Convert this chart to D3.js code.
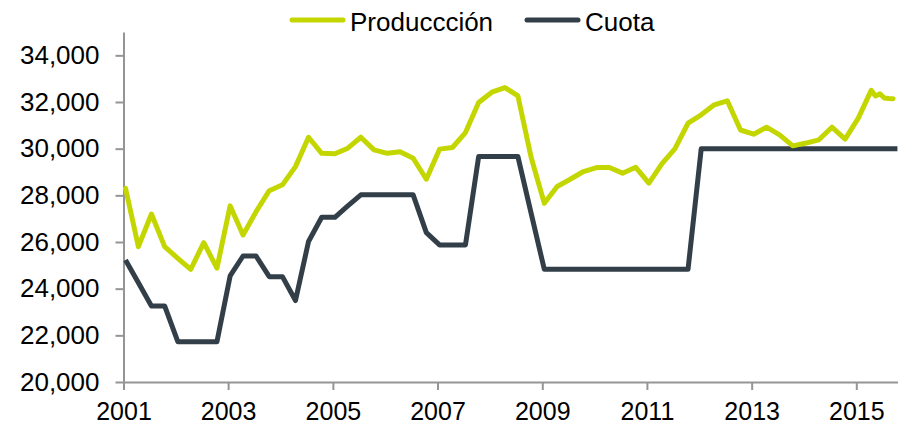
<!DOCTYPE html>
<html>
<head>
<meta charset="utf-8">
<script src="https://cdn.jsdelivr.net/npm/d3@7"></script>
<style>
  html, body { margin: 0; padding: 0; background: #fff; }
  svg { display: block; font-family: "Liberation Sans", Arial, sans-serif; }
</style>
</head>
<body>
<div id="chart"></div>
<script>
// quarterly observations (first month of each quarter), plus monthly tail in 2015
const quarters = [
  '2001-01','2001-04','2001-07','2001-10','2002-01','2002-04','2002-07','2002-10',
  '2003-01','2003-04','2003-07','2003-10','2004-01','2004-04','2004-07','2004-10',
  '2005-01','2005-04','2005-07','2005-10','2006-01','2006-04','2006-07','2006-10',
  '2007-01','2007-04','2007-07','2007-10','2008-01','2008-04','2008-07','2008-10',
  '2009-01','2009-04','2009-07','2009-10','2010-01','2010-04','2010-07','2010-10',
  '2011-01','2011-04','2011-07','2011-10','2012-01','2012-04','2012-07','2012-10',
  '2013-01','2013-04','2013-07','2013-10','2014-01','2014-04','2014-07','2014-10',
  '2015-01','2015-04','2015-07','2015-10'
];

const produccionDates = quarters.slice(0, 58).concat(['2015-05', '2015-06', '2015-07', '2015-08', '2015-09']);
const produccion = [
  28300, 25800, 27200, 25800, 25300, 24830, 25970, 24880,
  27550, 26300, 27300, 28200, 28450, 29230, 30490, 29800,
  29780, 30020, 30490, 29950, 29800, 29870, 29590, 28690,
  29980, 30050, 30690, 31980, 32420, 32620, 32260, 29630,
  27660, 28380, 28690, 29020, 29190, 29190, 28950, 29200,
  28520, 29350, 29990, 31090, 31450, 31880, 32050, 30800,
  30620, 30920, 30590, 30120, 30240, 30380, 30920, 30410,
  31310, 32500,
  32260, 32350, 32170, 32150, 32140
];

const cuota = [
  25230, 24250, 23260, 23260, 21730, 21730, 21730, 21730,
  24545, 25400, 25400, 24515, 24515, 23490, 26020, 27060,
  27060, 27550, 28020, 28020, 28020, 28020, 28020, 26400,
  25875, 25875, 25875, 29660, 29660, 29660, 29660, 27240,
  24830, 24830, 24830, 24830, 24830, 24830, 24830, 24830,
  24830, 24830, 24830, 24830, 30000, 30000, 30000, 30000,
  30000, 30000, 30000, 30000, 30000, 30000, 30000, 30000,
  30000, 30000, 30000, 30000
];

const yTicks = [20000, 22000, 24000, 26000, 28000, 30000, 32000, 34000];
const xTicks = ['2001', '2003', '2005', '2007', '2009', '2011', '2013', '2015'];
const seriesNames = ['Produccción', 'Cuota'];
const colors = ['#c4d600', '#333f48'];

const width = 898, height = 425;
const margin = { top: 32, right: 0, bottom: 43, left: 123.5 };

const parseMonth = d3.timeParse('%Y-%m');
const parseYear = d3.timeParse('%Y');
// points sit mid-month
const toDate = s => d3.timeDay.offset(parseMonth(s), 14);

const svg = d3.select('#chart').append('svg')
  .attr('width', width)
  .attr('height', height);

const x = d3.scaleTime()
  .domain([parseYear('2001'), new Date(2015, 9, 19)])
  .range([margin.left, width - margin.right]);

const y = d3.scaleLinear()
  .domain([20000, 35000])
  .range([height - margin.bottom, margin.top]);

const axisColor = '#959595';

const yAxis = svg.append('g')
  .attr('transform', `translate(${margin.left},0)`)
  .call(d3.axisLeft(y).tickValues(yTicks).tickFormat(d3.format(',')).tickSize(8).tickSizeOuter(0).tickPadding(16));

const xAxis = svg.append('g')
  .attr('transform', `translate(0,${height - margin.bottom})`)
  .call(d3.axisBottom(x).tickValues(xTicks.map(parseYear)).tickFormat(d3.timeFormat('%Y')).tickSize(8).tickSizeOuter(0).tickPadding(12));

[yAxis, xAxis].forEach(g => {
  g.select('.domain').attr('stroke', axisColor).attr('stroke-width', 2);
  g.selectAll('.tick line').attr('stroke', axisColor).attr('stroke-width', 2);
  g.selectAll('.tick text')
    .attr('fill', '#000')
    .style('font-size', '26px')
    .style('font-family', '"Liberation Sans", Arial, sans-serif');
});
xAxis.selectAll('.tick text').style('font-size', '25px');

const line = d3.line()
  .x(d => x(d.date))
  .y(d => y(d.value));

const cuotaData = quarters.map((q, i) => ({ date: toDate(q), value: cuota[i] }));
const prodData = produccionDates.map((q, i) => ({ date: toDate(q), value: produccion[i] }));

svg.append('path')
  .datum(cuotaData)
  .attr('fill', 'none')
  .attr('stroke', colors[1])
  .attr('stroke-width', 5)
  .attr('stroke-linejoin', 'round')
  .attr('d', line);

svg.append('path')
  .datum(prodData)
  .attr('fill', 'none')
  .attr('stroke', colors[0])
  .attr('stroke-width', 5)
  .attr('stroke-linejoin', 'round')
  .attr('stroke-linecap', 'round')
  .attr('d', line);

// legend
const legendX = [290, 525];
const legend = svg.append('g');
seriesNames.forEach((name, i) => {
  const g = legend.append('g').attr('transform', `translate(${legendX[i]},20)`);
  g.append('line')
    .attr('x1', 2).attr('x2', 53)
    .attr('stroke', colors[i])
    .attr('stroke-width', 5)
    .attr('stroke-linecap', 'round');
  g.append('text')
    .attr('x', 60)
    .attr('y', 11)
    .style('font-size', '26px')
    .attr('fill', '#000')
    .text(name);
});
</script>
</body>
</html>
